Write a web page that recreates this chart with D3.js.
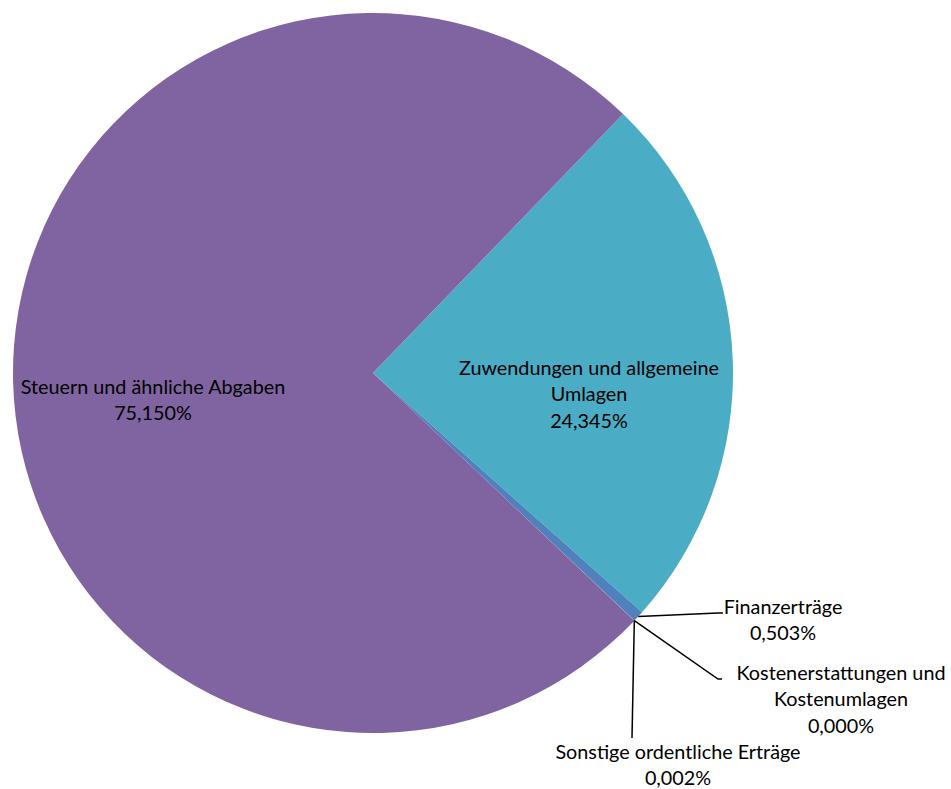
<!DOCTYPE html>
<html><head><meta charset="utf-8">
<script src="https://cdn.jsdelivr.net/npm/d3@7"></script>
<style>body{margin:0;background:#fff}svg{display:block}text{font-family:Lato,"Open Sans",sans-serif;font-size:19.8px;fill:#000}</style>
</head><body>
<script>
const categories = ["Zuwendungen und allgemeine Umlagen","Finanzerträge","Kostenerstattungen und Kostenumlagen","Sonstige ordentliche Erträge","Steuern und ähnliche Abgaben"];
const values = [24.345, 0.503, 0.000, 0.002, 75.150];
const labelLines = [["Zuwendungen und allgemeine","Umlagen","24,345%"],["Finanzerträge","0,503%"],["Kostenerstattungen und","Kostenumlagen","0,000%"],["Sonstige ordentliche Erträge","0,002%"],["Steuern und ähnliche Abgaben","75,150%"]];
const colors = ["#4BACC6","#4F81BD","#9BBB59","#F79646","#8064A2"];

const W=951,H=789,cx=373,cy=373,R=360;
const svg=d3.select("body").append("svg").attr("width",W).attr("height",H);
const g=svg.append("g").attr("transform",`translate(${cx},${cy})`);
const start=44*Math.PI/180;
const pie=d3.pie().sort(null).startAngle(start).endAngle(start+2*Math.PI);
const arcs=pie(values);
const arc=d3.arc().innerRadius(0).outerRadius(R);
g.selectAll("path").data(arcs).enter().append("path").attr("d",arc).attr("fill",(d,i)=>colors[i]);

// label placement (layout)
const lay=[
 {x:589,y:375,inside:true},
 {x:783,y:614,bend:[718,613],end:[723,613]},
 {x:841,y:680,bend:[718,679],end:[722,679]},
 {x:678,y:759,bend:null,end:[632,738]},
 {x:153,y:394,inside:true}
];
const lh=26.3;
arcs.forEach((d,i)=>{
  const L=lay[i];
  const lines=labelLines[i];
  if(!L.inside){
    const a=(d.startAngle+d.endAngle)/2;
    const p0=[cx+R*Math.sin(a), cy-R*Math.cos(a)];
    const pts=[p0];
    if(L.bend) pts.push(L.bend);
    pts.push(L.end);
    svg.append("polyline").attr("points",pts.map(p=>p.join(",")).join(" "))
      .attr("fill","none").attr("stroke","#000").attr("stroke-width",1.5);
  }
  const t=svg.append("text").attr("text-anchor","middle");
  lines.forEach((s,k)=>t.append("tspan").attr("x",L.x).attr("y",L.y+k*lh).text(s));
});
</script>
</body></html>
